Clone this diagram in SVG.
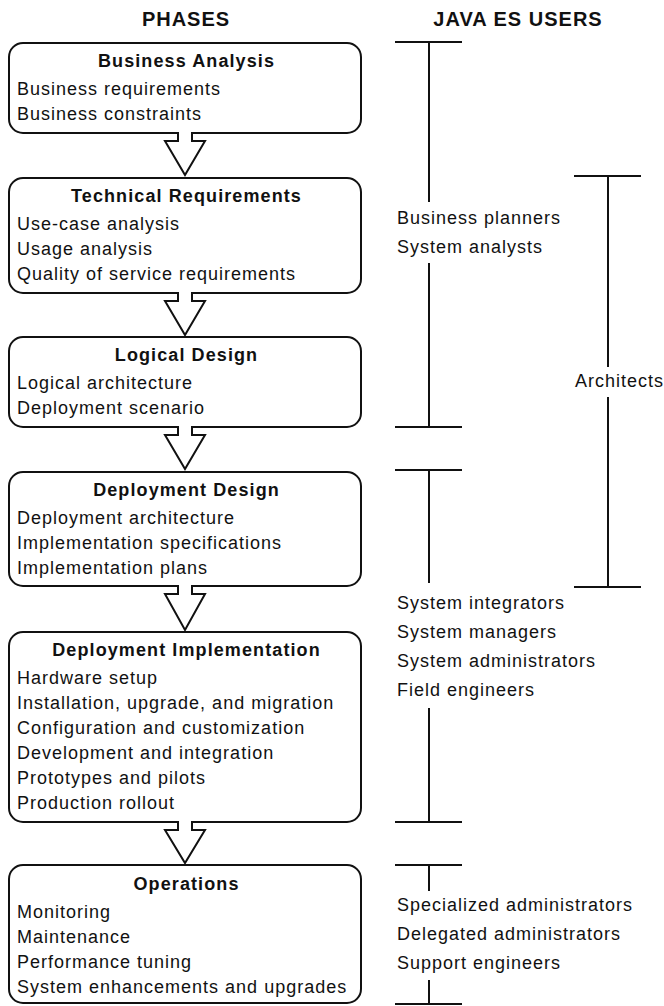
<svg xmlns="http://www.w3.org/2000/svg" width="664" height="1006" viewBox="0 0 664 1006">
<style>
  .box { fill: #ffffff; stroke: #111111; stroke-width: 2; }
  .arrow { fill: #ffffff; stroke: #111111; stroke-width: 2; stroke-linejoin: miter; }
  .bar { stroke: #111111; stroke-width: 2; fill: none; }
  .hdr { font-family: "Liberation Sans", Arial, sans-serif; font-weight: bold; font-size: 20px; letter-spacing: 1px; fill: #111111; text-anchor: middle; }
  .title { font-family: "Liberation Sans", Arial, sans-serif; font-weight: bold; font-size: 18px; letter-spacing: 1.1px; fill: #111111; text-anchor: middle; }
  .body { font-family: "Liberation Sans", Arial, sans-serif; font-size: 18px; letter-spacing: 1px; fill: #111111; }
</style>
<rect width="664" height="1006" fill="#ffffff"/>

<g id="headers">
  <text class="hdr" x="186" y="26">PHASES</text>
  <text class="hdr" x="518" y="26">JAVA ES USERS</text>
</g>

<g id="business-analysis">
  <rect class="box" x="9" y="43" width="352" height="90" rx="14" ry="14"/>
  <text class="title" x="186.5" y="67">Business Analysis</text>
  <text class="body" x="17" y="95">Business requirements</text>
  <text class="body" x="17" y="120">Business constraints</text>
</g>

<g id="technical-requirements">
  <rect class="box" x="9" y="178" width="352" height="115" rx="14" ry="14"/>
  <text class="title" x="186.5" y="202">Technical Requirements</text>
  <text class="body" x="17" y="230">Use-case analysis</text>
  <text class="body" x="17" y="255">Usage analysis</text>
  <text class="body" x="17" y="280">Quality of service requirements</text>
</g>

<g id="logical-design">
  <rect class="box" x="9" y="337" width="352" height="90" rx="14" ry="14"/>
  <text class="title" x="186.5" y="361">Logical Design</text>
  <text class="body" x="17" y="389">Logical architecture</text>
  <text class="body" x="17" y="414">Deployment scenario</text>
</g>

<g id="deployment-design">
  <rect class="box" x="9" y="472" width="352" height="114" rx="14" ry="14"/>
  <text class="title" x="186.5" y="496">Deployment Design</text>
  <text class="body" x="17" y="524">Deployment architecture</text>
  <text class="body" x="17" y="549">Implementation specifications</text>
  <text class="body" x="17" y="574">Implementation plans</text>
</g>

<g id="deployment-implementation">
  <rect class="box" x="9" y="632" width="352" height="190" rx="14" ry="14"/>
  <text class="title" x="186.5" y="656">Deployment Implementation</text>
  <text class="body" x="17" y="684">Hardware setup</text>
  <text class="body" x="17" y="709">Installation, upgrade, and migration</text>
  <text class="body" x="17" y="734">Configuration and customization</text>
  <text class="body" x="17" y="759">Development and integration</text>
  <text class="body" x="17" y="784">Prototypes and pilots</text>
  <text class="body" x="17" y="809">Production rollout</text>
</g>

<g id="operations">
  <rect class="box" x="9" y="865" width="352" height="138" rx="14" ry="14"/>
  <text class="title" x="186.5" y="890">Operations</text>
  <text class="body" x="17" y="918">Monitoring</text>
  <text class="body" x="17" y="943">Maintenance</text>
  <text class="body" x="17" y="968">Performance tuning</text>
  <text class="body" x="17" y="993">System enhancements and upgrades</text>
</g>

<g id="connectors">
  <path class="arrow" d="M178,132 V141 H165 L185,175 L205,141 H192 V132"/>
  <path class="arrow" d="M178,292 V301 H165 L185,335 L205,301 H192 V292"/>
  <path class="arrow" d="M178,426 V435 H165 L185,469 L205,435 H192 V426"/>
  <path class="arrow" d="M178,585 V594 H165 L185,630 L205,594 H192 V585"/>
  <path class="arrow" d="M178,821 V830 H165 L185,863 L205,830 H192 V821"/>
</g>

<g id="users-business">
  <path class="bar" d="M395,42 H462 M429,42 V202 M429,263 V427 M395,427 H462"/>
  <text class="body" x="397" y="224">Business planners</text>
  <text class="body" x="397" y="253">System analysts</text>
</g>

<g id="users-architects">
  <path class="bar" d="M574,176 H641 M608,176 V367 M608,397 V587 M574,587 H641"/>
  <text class="body" x="575" y="387">Architects</text>
</g>

<g id="users-integrators">
  <path class="bar" d="M395,470 H462 M429,470 V583 M429,708 V822 M395,822 H462"/>
  <text class="body" x="397" y="609">System integrators</text>
  <text class="body" x="397" y="638">System managers</text>
  <text class="body" x="397" y="667">System administrators</text>
  <text class="body" x="397" y="696">Field engineers</text>
</g>

<g id="users-operations">
  <path class="bar" d="M395,865 H462 M429,865 V891 M429,980 V1004 M395,1004 H462"/>
  <text class="body" x="397" y="911">Specialized administrators</text>
  <text class="body" x="397" y="940">Delegated administrators</text>
  <text class="body" x="397" y="969">Support engineers</text>
</g>
</svg>
